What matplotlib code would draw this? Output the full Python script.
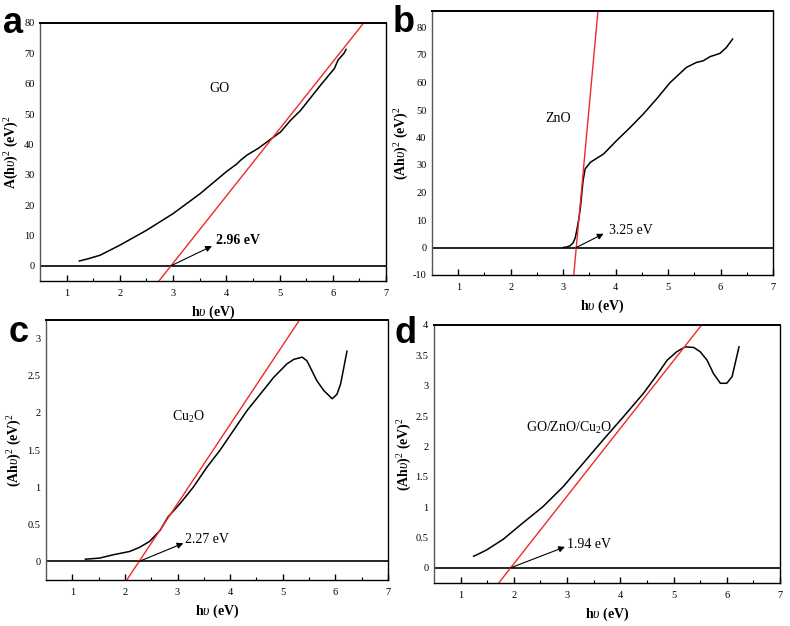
"""Tauc plots for GO, ZnO, Cu2O and GO/ZnO/Cu2O (four panels)."""

import matplotlib
import matplotlib.pyplot as plt
import numpy as np

matplotlib.use("Agg")

plt.rcParams["font.family"] = ["Liberation Serif", "DejaVu Serif"]
plt.rcParams["mathtext.fontset"] = "custom"
plt.rcParams["mathtext.rm"] = "Liberation Serif"
plt.rcParams["mathtext.it"] = "Liberation Serif:italic"
plt.rcParams["mathtext.bf"] = "Liberation Serif:bold"

# ---- panel a: GO ----
go_x = [1.24, 1.40, 1.63, 2.00, 2.50, 3.00, 3.51, 4.00, 4.20, 4.27, 4.39, 4.60,
        4.77, 5.02, 5.20, 5.40, 5.77, 6.03, 6.10, 6.21, 6.25]
go_y = [1.6, 2.3, 3.5, 6.8, 11.7, 17.2, 23.8, 31.0, 33.6, 34.8, 36.5, 38.7,
        40.9, 44.1, 47.8, 51.3, 59.5, 65.0, 67.8, 70.0, 71.3]
go_gap, go_slope = 2.96, 22.1

# ---- panel b: ZnO ----
zno_x = [3.00, 3.07, 3.13, 3.19, 3.23, 3.26, 3.30, 3.33, 3.38, 3.42, 3.52, 3.77,
         4.02, 4.28, 4.53, 4.78, 5.04, 5.35, 5.54, 5.67, 5.80, 5.99, 6.11, 6.23]
zno_y = [0.0, 0.2, 0.6, 1.7, 3.5, 6.3, 10.5, 14.7, 24.4, 28.6, 31.0, 34.0,
         38.9, 43.7, 48.6, 54.0, 60.0, 65.5, 67.3, 67.9, 69.4, 70.6, 72.7, 75.8]
zno_gap, zno_slope = 3.25, 208.0

# ---- panel c: Cu2O ----
cu_x = [1.25, 1.52, 1.78, 2.09, 2.28, 2.47, 2.67, 2.82, 3.05, 3.30, 3.56, 3.81,
        4.06, 4.32, 4.57, 4.83, 5.08, 5.21, 5.37, 5.46, 5.65, 5.78, 5.94, 6.03,
        6.10, 6.22]
cu_y = [0.03, 0.045, 0.09, 0.134, 0.19, 0.27, 0.42, 0.60, 0.78, 1.00, 1.27, 1.50,
        1.76, 2.03, 2.25, 2.48, 2.66, 2.72, 2.75, 2.70, 2.43, 2.30, 2.19, 2.25,
        2.39, 2.83]
cu_gap, cu_slope = 2.27, 1.066

# ---- panel d: GO/ZnO/Cu2O ----
mix_x = [1.245, 1.48, 1.80, 2.17, 2.55, 2.93, 3.31, 3.68, 4.06, 4.44, 4.69, 4.88,
         5.06, 5.22, 5.38, 5.50, 5.63, 5.75, 5.88, 6.00, 6.10, 6.23]
mix_y = [0.19, 0.29, 0.47, 0.74, 1.01, 1.34, 1.73, 2.11, 2.49, 2.88, 3.18, 3.42,
         3.56, 3.64, 3.63, 3.56, 3.42, 3.20, 3.04, 3.04, 3.15, 3.64]
mix_gap, mix_slope = 1.94, 1.115

PANELS = [
    dict(tag="a", x=go_x, y=go_y, gap=go_gap, slope=go_slope, ylim=(-5, 80),
         yticks=np.arange(0, 81, 10), ylabel=r"A(h$\upsilon$)$^2$ (eV)$^2$",
         name="GO", name_xy=(3.87, 58.5), note="2.96 eV", note_xy=(3.8, 8.5),
         head=(3.73, 6.5), bold_note=True, rect=[40, 23, 386, 281],
         tag_xy=(3, 33), ylab_x=21),
    dict(tag="b", x=zno_x, y=zno_y, gap=zno_gap, slope=zno_slope, ylim=(-10, 86),
         yticks=np.arange(-10, 81, 10), ylabel=r"(Ah$\upsilon$)$^2$ (eV)$^2$",
         name="ZnO", name_xy=(2.91, 46.8), note="3.25 eV", note_xy=(3.88, 6.3),
         head=(3.77, 5.0), bold_note=False, rect=[432, 11, 773, 275],
         tag_xy=(393, 32), ylab_x=411),
    dict(tag="c", x=cu_x, y=cu_y, gap=cu_gap, slope=cu_slope, ylim=(-0.25, 3.25),
         yticks=np.arange(0, 3.01, 0.5), ylabel=r"(Ah$\upsilon$)$^2$ (eV)$^2$",
         name=r"Cu$_2$O", name_xy=(3.2, 1.94), note="2.27 eV", note_xy=(3.15, 0.29),
         head=(3.11, 0.245), bold_note=False, rect=[46, 320, 388, 580],
         tag_xy=(9, 342), ylab_x=24),
    dict(tag="d", x=mix_x, y=mix_y, gap=mix_gap, slope=mix_slope, ylim=(-0.25, 4),
         yticks=np.arange(0, 4.01, 0.5), ylabel=r"(Ah$\upsilon$)$^2$ (eV)$^2$",
         name=r"GO/ZnO/Cu$_2$O", name_xy=(3.04, 2.3), note="1.94 eV",
         note_xy=(3.0, 0.38), head=(2.96, 0.345), bold_note=False,
         rect=[434, 325, 780, 583], tag_xy=(395, 343), ylab_x=414),
]

W, H = 790, 626
fig = plt.figure(figsize=(W / 100, H / 100), dpi=100)

for p in PANELS:
    l, t, r, b = p["rect"]
    ax = fig.add_axes([l / W, 1 - b / H, (r - l) / W, (b - t) / H])
    ax.set_xlim(0.5, 7)
    ax.set_ylim(*p["ylim"])

    ax.plot(p["x"], p["y"], color="black", lw=1.1)
    ax.axhline(0, color="black", lw=1.2)
    fx = np.array([0.0, 8.0])
    ax.plot(fx, p["slope"] * (fx - p["gap"]), color="#ee2a2a", lw=1.0)

    ax.annotate("", xy=p["head"], xytext=(p["gap"], 0),
                arrowprops=dict(arrowstyle="-|>", color="black", lw=0.8,
                                mutation_scale=9, shrinkA=0, shrinkB=0))
    ax.text(*p["note_xy"], p["note"], fontsize=10, va="center", ha="left",
            fontweight="bold" if p["bold_note"] else "normal")
    ax.text(*p["name_xy"], p["name"], fontsize=10, va="center", ha="center")

    ax.set_xticks(range(1, 8))
    ax.set_xticks(np.arange(1.5, 7, 1.0), minor=True)
    ax.set_yticks(p["yticks"])
    ax.set_yticklabels([f"{v:g}" for v in p["yticks"]])
    ax.tick_params(axis="x", which="major", direction="in", length=4, width=1,
                   labelsize=7.5, pad=6)
    ax.tick_params(axis="x", which="minor", direction="in", length=2, width=0.8)
    ax.tick_params(axis="y", length=0, labelsize=7.5, pad=4)
    for s in ax.spines.values():
        s.set_linewidth(1.0)
    ax.spines["top"].set_linewidth(1.4)
    ax.spines["left"].set_color("#555555")

    ax.set_xlabel(r"h$\upsilon$ (eV)", fontsize=10, fontweight="bold", labelpad=4)
    ax.set_ylabel(p["ylabel"], fontsize=10, fontweight="bold")
    ax.yaxis.set_label_coords((p["ylab_x"] - l) / (r - l), 0.5)

    tx, ty = p["tag_xy"]
    fig.text(tx / W, 1 - ty / H, p["tag"], fontsize=26, fontweight="bold",
             family="Liberation Sans", va="baseline", ha="left")

fig.savefig("out.png", dpi=100)
